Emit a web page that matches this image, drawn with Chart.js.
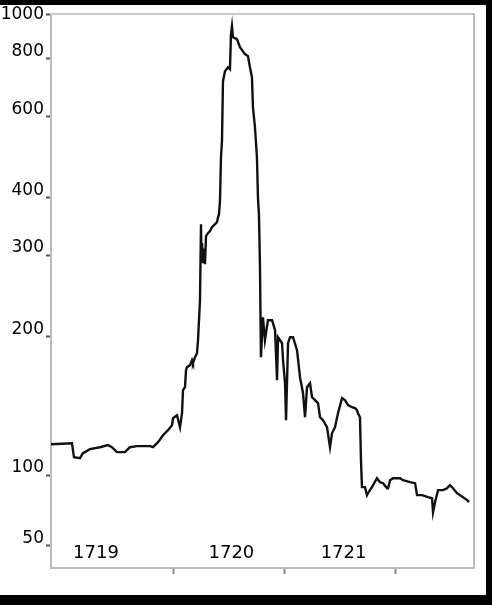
<!DOCTYPE html>
<html>
<head>
<meta charset="utf-8">
<script src="https://cdn.jsdelivr.net/npm/chart.js@4.4.1/dist/chart.umd.min.js"></script>
<style>
  html, body { margin: 0; padding: 0; background: #000; }
  #box { position: absolute; left: 0; top: 5px; width: 486px; height: 590px; background: #fff; }
</style>
</head>
<body>
<div id="box"><canvas id="myChart" width="486" height="590"></canvas></div>
<script>
// share price (time in fractional years)
const years = [
  1718.895, 1719.084, 1719.102, 1719.156, 1719.183, 1719.246, 1719.336, 1719.408, 1719.444, 1719.489,
  1719.561, 1719.606, 1719.669, 1719.787, 1719.814, 1719.859, 1719.904, 1719.949, 1719.985, 1719.994,
  1720.030, 1720.057, 1720.075, 1720.084, 1720.102, 1720.111, 1720.120, 1720.147, 1720.165, 1720.174,
  1720.192, 1720.210, 1720.219, 1720.237, 1720.246, 1720.250, 1720.255, 1720.264, 1720.273, 1720.282,
  1720.291, 1720.309, 1720.327, 1720.345, 1720.390, 1720.399, 1720.408, 1720.417, 1720.426, 1720.435,
  1720.444, 1720.462, 1720.489, 1720.507, 1720.516, 1720.525, 1720.534, 1720.570, 1720.597, 1720.642,
  1720.669, 1720.687, 1720.705, 1720.714, 1720.732, 1720.750, 1720.759, 1720.768, 1720.777, 1720.786,
  1720.804, 1720.822, 1720.849, 1720.886, 1720.913, 1720.931, 1720.940, 1720.976, 1720.985, 1721.003,
  1721.012, 1721.030, 1721.048, 1721.075, 1721.111, 1721.138, 1721.165, 1721.183, 1721.201, 1721.228,
  1721.246, 1721.273, 1721.300, 1721.318, 1721.345, 1721.381, 1721.408, 1721.426, 1721.453, 1721.480,
  1721.516, 1721.543, 1721.570, 1721.606, 1721.633, 1721.651, 1721.660, 1721.678, 1721.687, 1721.696,
  1721.723, 1721.741, 1721.750, 1721.786, 1721.795, 1721.831, 1721.858, 1721.886, 1721.922, 1721.931,
  1721.949, 1721.976, 1722.039, 1722.066, 1722.129, 1722.174, 1722.192, 1722.237, 1722.291, 1722.327,
  1722.336, 1722.354, 1722.381, 1722.426, 1722.462, 1722.489, 1722.516, 1722.552, 1722.606, 1722.643,
  1722.660
];
const prices = [
  116.7, 117.3, 109.4, 108.9, 111.6, 113.9, 115.0, 116.2, 115.0, 112.2,
  112.2, 115.0, 115.6, 115.6, 115.0, 117.9, 122.1, 125.2, 128.4, 132.9,
  134.9, 127.0, 136.3, 152.9, 155.2, 169.0, 171.5, 173.3, 177.6, 175.0,
  180.3, 183.9, 196.2, 239.7, 350.4, 300.0, 318.7, 288.4, 310.0, 287.0,
  330.0, 335.0, 338.4, 345.1, 353.9, 362.0, 368.3, 393.0, 489.6, 530.4,
  715.5, 752.2, 767.4, 759.8, 904.8, 941.9, 891.4, 882.6, 847.9, 819.3,
  811.2, 767.0, 730.1, 628.6, 568.6, 489.6, 400.9, 368.0, 287.0, 180.3,
  220.1, 196.2, 216.9, 216.9, 206.3, 160.7, 199.2, 193.3, 177.6, 158.3,
  131.6, 193.3, 199.2, 199.2, 186.7, 163.1, 150.6, 133.6, 155.2, 158.3,
  147.6, 145.5, 143.3, 133.6, 131.6, 127.1, 115.0, 123.3, 127.1, 136.3,
  146.9, 145.5, 141.9, 140.4, 139.8, 138.4, 136.3, 133.6, 107.8, 94.2,
  94.2, 90.5, 91.4, 94.2, 95.1, 98.5, 96.6, 96.1, 93.7, 93.7,
  97.5, 98.5, 98.5, 97.5, 96.6, 96.1, 90.5, 90.5, 89.6, 89.1,
  83.1, 87.4, 92.8, 92.8, 93.7, 95.1, 93.7, 91.4, 89.6, 88.3,
  87.4
];

// axes
const xMin = 1718.895, xMax = 1722.705;
const yearTicks = [1720, 1721, 1722];
const yearLabels = ['1719', '1720', '1721'];
const yearLabelAt = [1719.3, 1720.52, 1721.53];

const yMin = 62.9, yMax = 1000;
// labels as printed in the original (its "50" sits higher than a true 50)
const yTickAt = [70.3, 100, 200, 300, 400, 600, 800, 1000];
const yTickLabels = ['50', '100', '200', '300', '400', '600', '800', '1000'];

const ctx = document.getElementById('myChart');

const chart = new Chart(ctx, {
  type: 'line',
  data: {
    datasets: [{
      data: years.map((x, i) => ({ x: x, y: prices[i] })),
      borderColor: '#111',
      borderWidth: 2.4,
      pointRadius: 0,
      tension: 0,
      xAxisID: 'x',
      yAxisID: 'y'
    }]
  },
  options: {
    responsive: false,
    animation: false,
    layout: { padding: 0 },
    plugins: { legend: { display: false }, tooltip: { enabled: false } },
    scales: {
      x: {
        type: 'linear', position: 'bottom', min: xMin, max: xMax,
        afterFit: s => { s.height = 27; },
        afterBuildTicks: s => {
          s.ticks = yearTicks.concat(yearLabelAt).sort((a, b) => a - b).map(v => ({ value: v }));
        },
        ticks: {
          autoSkip: false, maxRotation: 0, mirror: true, padding: 4, color: '#000',
          font: { family: 'DejaVu Sans', size: 18 },
          callback: v => {
            const i = yearLabelAt.indexOf(v);
            return i >= 0 ? yearLabels[i] : '';
          }
        },
        grid: {
          drawOnChartArea: false, tickLength: 6, tickWidth: 2,
          tickColor: c => yearTicks.includes(c.tick.value) ? '#888' : 'rgba(0,0,0,0)'
        },
        border: { color: '#bbb', width: 2 }
      },
      y: {
        type: 'logarithmic', position: 'left', min: yMin, max: yMax,
        afterFit: s => { s.width = 51; },
        afterBuildTicks: s => { s.ticks = yTickAt.map(v => ({ value: v })); },
        ticks: {
          autoSkip: false, padding: 2, color: '#000',
          font: { family: 'DejaVu Sans', size: 17, lineHeight: 0.85 },
          callback: (v, i) => i === yTickAt.length - 1 ? yTickLabels[i] : [yTickLabels[i], '']
        },
        grid: { drawOnChartArea: false, tickLength: 5, tickWidth: 2, tickColor: '#555' },
        border: { color: '#bbb', width: 2 }
      },
      top: {
        type: 'linear', position: 'top', min: xMin, max: xMax,
        afterFit: s => { s.height = 9; },
        ticks: { display: false },
        grid: { drawOnChartArea: false, drawTicks: false },
        border: { color: '#c8c8c8', width: 2 }
      },
      right: {
        type: 'linear', position: 'right', min: 0, max: 1,
        afterFit: s => { s.width = 12; },
        ticks: { display: false },
        grid: { drawOnChartArea: false, drawTicks: false },
        border: { color: '#bbb', width: 2 }
      }
    }
  }
});
</script>
</body>
</html>
